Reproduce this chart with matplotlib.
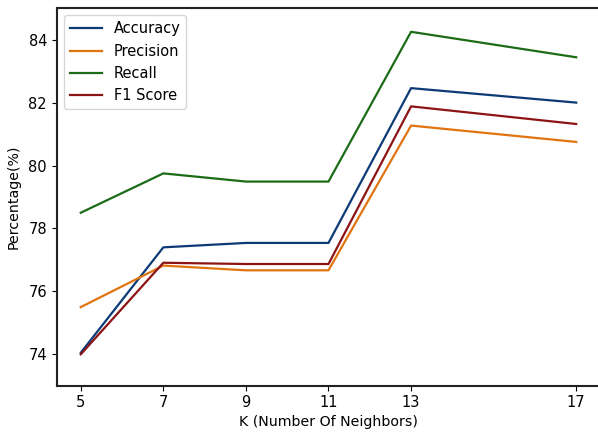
import matplotlib
matplotlib.use("Agg")
import matplotlib.pyplot as plt

k_values = [5, 7, 9, 11, 13, 17]
accuracy = [74.05, 77.40, 77.54, 77.54, 82.46, 82.00]
precision = [75.50, 76.82, 76.67, 76.67, 81.27, 80.75]
recall = [78.50, 79.75, 79.49, 79.49, 84.25, 83.44]
f1_score = [74.00, 76.91, 76.87, 76.87, 81.88, 81.32]

plt.rcParams['font.size'] = 10.2

fig = plt.figure(figsize=(5.98, 4.32), dpi=100)
ax = fig.add_axes([0.095, 0.107, 0.91, 0.874])

ax.plot(k_values, accuracy, color='#0c3a75', lw=1.6, label='Accuracy')
ax.plot(k_values, precision, color='#e07410', lw=1.6, label='Precision')
ax.plot(k_values, recall, color='#1b6b17', lw=1.6, label='Recall')
ax.plot(k_values, f1_score, color='#8c1414', lw=1.6, label='F1 Score')

ax.set_xticks(k_values)
ax.set_yticks([74, 76, 78, 80, 82, 84])
ax.set_xlim(4.42, 17.6)
ax.set_ylim(73, 85)
ax.set_xlabel('K (Number Of Neighbors)', labelpad=3)
ax.set_ylabel('Percentage(%)', labelpad=6)
ax.tick_params(labelsize=10.5)
for s in ax.spines.values():
    s.set_linewidth(1.5)
    s.set_color('#222222')
ax.legend(loc='upper left', fontsize=10.5, handlelength=2.2)

fig.savefig('out.png', dpi=100)
